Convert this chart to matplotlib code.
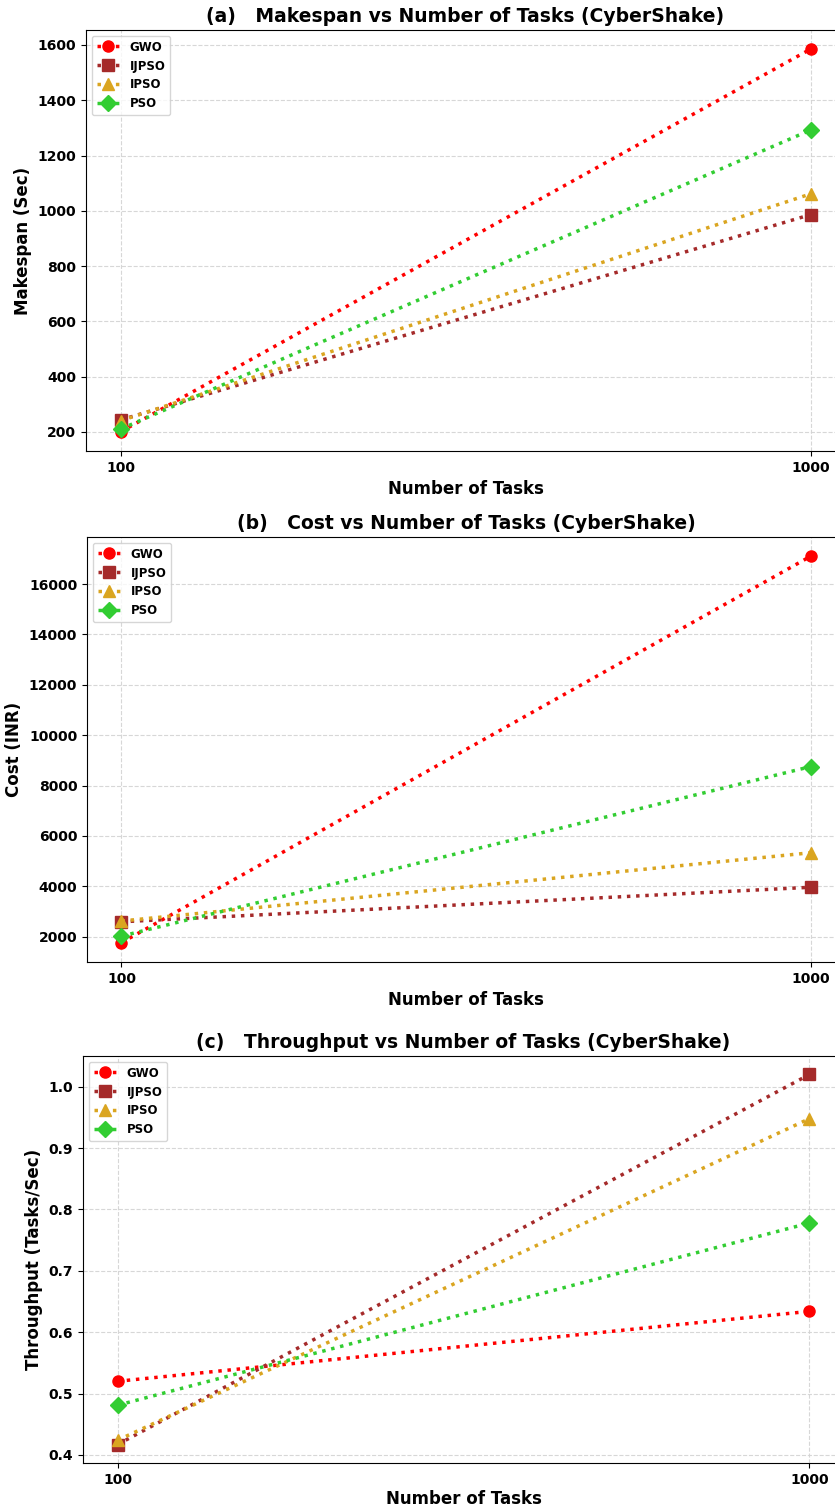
import matplotlib
matplotlib.use("Agg")
import matplotlib.pyplot as plt

tasks = [100, 1000]
algorithms = ["GWO", "IJPSO", "IPSO", "PSO"]
colors = ["red", "brown", "goldenrod", "limegreen"]
markers = ["o", "s", "^", "D"]

makespan = {
    "GWO": [200, 1585],
    "IJPSO": [243, 986],
    "IPSO": [240, 1061],
    "PSO": [210, 1292],
}
cost = {
    "GWO": [1760, 17100],
    "IJPSO": [2590, 3960],
    "IPSO": [2620, 5330],
    "PSO": [2020, 8750],
}
throughput = {
    "GWO": [0.520, 0.634],
    "IJPSO": [0.417, 1.020],
    "IPSO": [0.424, 0.948],
    "PSO": [0.481, 0.778],
}

panels = [
    ("(a)   Makespan vs Number of Tasks (CyberShake)", "Makespan (Sec)", makespan),
    ("(b)   Cost vs Number of Tasks (CyberShake)", "Cost (INR)", cost),
    ("(c)   Throughput vs Number of Tasks (CyberShake)", "Throughput (Tasks/Sec)", throughput),
]

W, H = 835, 1508
fig = plt.figure(figsize=(W / 100, H / 100), dpi=100)

# axes boxes in pixel coords: left, top, right, bottom
boxes = [
    (86, 30, 845, 451),
    (87, 537, 845, 962),
    (83, 1056, 844, 1463),
]

for i, ((title, ylabel, data), (l, t, r, b)) in enumerate(zip(panels, boxes)):
    ax = fig.add_axes([l / W, 1 - b / H, (r - l) / W, (b - t) / H])
    for alg, c, m in zip(algorithms, colors, markers):
        ax.plot(tasks, data[alg], linestyle=":", color=c, marker=m,
                linewidth=2.5, markersize=8, label=alg)
    ax.set_xticks(tasks)
    ax.set_xticklabels([str(v) for v in tasks])
    ax.set_title(title, fontsize=13.5, fontweight="bold", pad=6)
    ax.set_xlabel("Number of Tasks", fontsize=12, fontweight="bold",
                  labelpad=2 if i == 2 else 4)
    ax.set_ylabel(ylabel, fontsize=12, fontweight="bold")
    ax.grid(True, linestyle="--", color="lightgray", alpha=0.9, linewidth=0.8)
    for lab in ax.get_xticklabels() + ax.get_yticklabels():
        lab.set_fontweight("bold")
        lab.set_fontsize(10)
    ax.legend(loc="upper left", prop={"weight": "bold", "size": 8.5})

fig.savefig("out.png", dpi=100)
